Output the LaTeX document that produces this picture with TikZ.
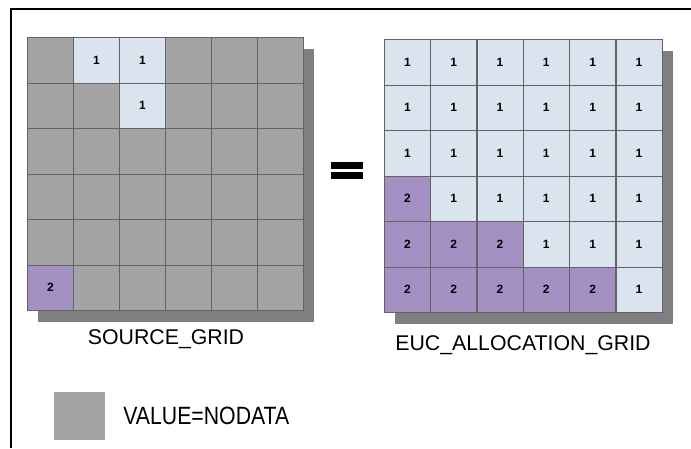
\documentclass[tikz,border=0pt]{standalone}
\usepackage{fontspec}
\setmainfont{Liberation Sans}
\usepackage{tikz}
\usetikzlibrary{positioning}
\definecolor{nodatagray}{HTML}{A4A4A4}
\definecolor{srcblue}{HTML}{D9E4EF}
\definecolor{srcpurple}{HTML}{A590C4}
\definecolor{shadowgray}{HTML}{7F7F7F}
\definecolor{linegray}{HTML}{646464}
\tikzset{gridcell/.style={draw=linegray,line width=0.8pt,rectangle,minimum width=46pt,minimum height=45.5pt,inner sep=0,anchor=north west,font=\fontsize{12}{12}\selectfont\bfseries},
    cell0/.style={gridcell,fill=nodatagray},
    cell1/.style={gridcell,fill=srcblue},
    cell2/.style={gridcell,fill=srcpurple},
    gridshadow/.style={fill=shadowgray},
    gridname/.style={font=\fontsize{21.3}{21.3}\selectfont,inner sep=0},
    eqbar/.style={fill=black,inner sep=0,minimum width=32pt,minimum height=7pt}}

\begin{document}
\begin{tikzpicture}[x=1pt,y=-1pt]

\useasboundingbox (0,0) rectangle (691,448);

% frame
\draw [line width=2pt] (11,448) -- (11,9) -- (691,9);

% shadows
\fill [gridshadow] (38,49) rectangle (314,322);
\fill [gridshadow] (395,51) rectangle (673,324);

% source grid

\foreach \vals [count=\r] in {
  {0,1,1,0,0,0},
  {0,0,1,0,0,0},
  {0,0,0,0,0,0},
  {0,0,0,0,0,0},
  {0,0,0,0,0,0},
  {2,0,0,0,0,0}}
    \foreach \v [count=\c] in \vals
        \node (src-\r-\c) [cell\v] at ({27+46*(\c-1)},{37+45.5*(\r-1)}) {\ifnum\v>0 \v\fi};

% allocation grid

\foreach \vals [count=\r] in {
  {1,1,1,1,1,1},
  {1,1,1,1,1,1},
  {1,1,1,1,1,1},
  {2,1,1,1,1,1},
  {2,2,2,1,1,1},
  {2,2,2,2,2,1}}
    \foreach \v [count=\c] in \vals
        \node (alloc-\r-\c) [cell\v] at ({384+46.3*(\c-1)},{39+45.5*(\r-1)}) {\v};

% equals sign
\node (eqtop) [eqbar] at (347,165.5) {};
\node (eqbot) [eqbar,below=3pt of eqtop] {};

% grid names
\node (srcname) [gridname] at (166,339) {SOURCE\_GRID};
\node (allocname) [gridname] at (523,345) {EUC\_ALLOCATION\_GRID};

% legend
\node (keybox) [fill=nodatagray,minimum width=51pt,minimum height=48pt,inner sep=0] at (79.5,416) {};
\node (keytext) [right=18pt of keybox,inner sep=0,font=\fontsize{25}{25}\selectfont,xscale=0.85,transform shape] {VALUE=NODATA};

\end{tikzpicture}
\end{document}
